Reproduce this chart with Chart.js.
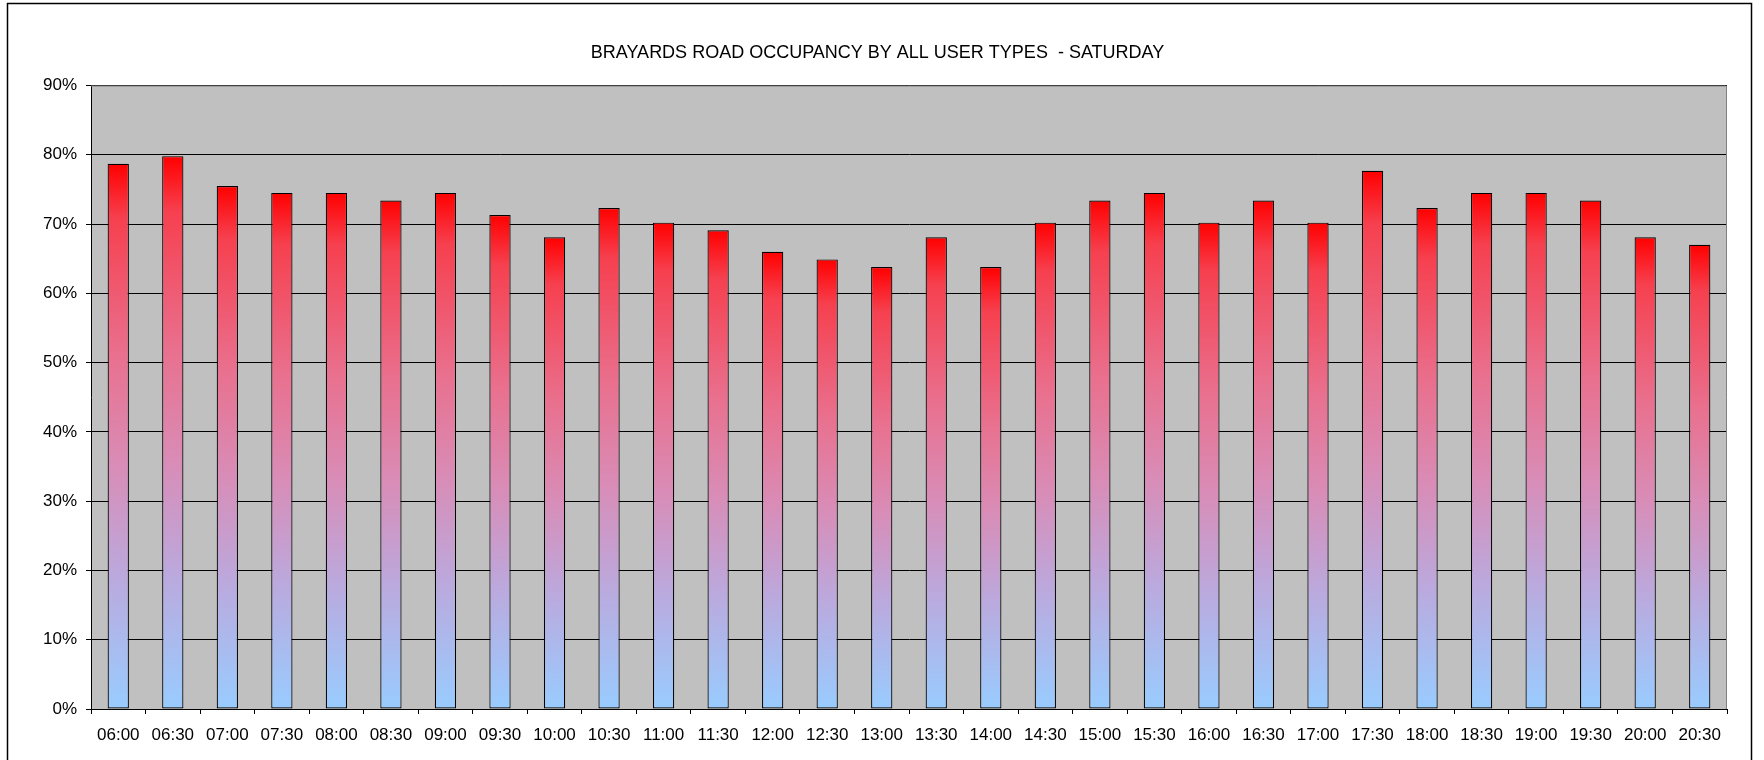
<!DOCTYPE html>
<html>
<head>
<meta charset="utf-8">
<script src="https://cdn.jsdelivr.net/npm/chart.js@4/dist/chart.umd.min.js"></script>
<style>
  html, body { margin: 0; padding: 0; background: #ffffff; }
  #wrap { position: relative; width: 1764px; height: 760px; }
</style>
</head>
<body>
<div id="wrap"><canvas id="chart" width="1764" height="760"></canvas></div>
<script>
// Half-hourly time slots
const timeSlots = ['06:00','06:30','07:00','07:30','08:00','08:30','09:00','09:30','10:00','10:30',
  '11:00','11:30','12:00','12:30','13:00','13:30','14:00','14:30','15:00','15:30',
  '16:00','16:30','17:00','17:30','18:00','18:30','19:00','19:30','20:00','20:30'];

// Occupancy (%) for every slot
const occupancy = [78.7, 79.8, 75.5, 74.5, 74.5, 73.4, 74.5, 71.3, 68.1, 72.3,
  70.2, 69.1, 66.0, 64.9, 63.8, 68.1, 63.8, 70.2, 73.4, 74.5,
  70.2, 73.4, 70.2, 77.7, 72.3, 74.5, 74.5, 73.4, 68.1, 67.0];

// Value axis range and step (%)
const yMin = 0;
const yMax = 90;
const yStep = 10;

const chartTitle = 'BRAYARDS ROAD OCCUPANCY BY ALL USER TYPES  - SATURDAY';

const FONT = '"Liberation Sans", Arial, sans-serif';

// Grey plot background, its frame, and the outer chart frame
const framePlugin = {
  id: 'frames',
  beforeDraw(chart) {
    const { ctx, chartArea: a } = chart;
    ctx.save();
    ctx.fillStyle = '#ffffff';
    ctx.fillRect(0, 0, chart.width, chart.height);
    ctx.strokeStyle = '#000000';
    ctx.lineWidth = 1.5;
    ctx.strokeRect(7.5, 3.5, 1744, 820);
    ctx.fillStyle = '#c0c0c0';
    ctx.fillRect(a.left, a.top, a.right - a.left, a.bottom - a.top);
    ctx.restore();
  },
  afterDraw(chart) {
    const { ctx, chartArea: a } = chart;
    ctx.save();
    ctx.strokeStyle = '#808080';
    ctx.lineWidth = 1;
    ctx.beginPath();
    ctx.moveTo(a.left, a.top + 0.5);
    ctx.lineTo(a.right - 0.5, a.top + 0.5);
    ctx.lineTo(a.right - 0.5, a.bottom);
    ctx.stroke();
    ctx.restore();
  }
};

// Vertical red-to-blue fill, spanning each bar from its top to the baseline
function barFill(context) {
  const chart = context.chart;
  if (!chart.chartArea || !chart.scales.y) return '#ff0000';
  const y = chart.scales.y;
  const top = y.getPixelForValue(context.raw);
  const base = y.getPixelForValue(0);
  const g = chart.ctx.createLinearGradient(0, top, 0, base);
  g.addColorStop(0, '#ff0000');
  g.addColorStop(0.1, '#f6404f');
  g.addColorStop(0.35, '#e9708e');
  g.addColorStop(0.55, '#d98cb6');
  g.addColorStop(0.75, '#bca8dc');
  g.addColorStop(1, '#99ccff');
  return g;
}

new Chart(document.getElementById('chart'), {
  type: 'bar',
  data: {
    labels: timeSlots,
    datasets: [{
      data: occupancy,
      backgroundColor: barFill,
      borderColor: '#000000',
      borderWidth: 1.2,
      borderSkipped: false,
      barPercentage: 0.39,
      categoryPercentage: 1.0
    }]
  },
  plugins: [framePlugin],
  options: {
    responsive: false,
    animation: false,
    devicePixelRatio: 1,
    layout: { padding: { left: 0, right: 9, top: 0, bottom: 0 } },
    plugins: {
      legend: { display: false },
      tooltip: { enabled: false },
      title: {
        display: true,
        text: chartTitle,
        color: '#000000',
        font: { family: FONT, size: 18, weight: 'normal' },
        padding: { top: 42.2, bottom: 21.7 }
      }
    },
    scales: {
      x: {
        offset: true,
        grid: {
          display: true,
          offset: true,
          drawOnChartArea: false,
          drawTicks: true,
          tickLength: 5,
          color: '#000000',
          lineWidth: 1
        },
        border: { display: true, color: '#000000', width: 1 },
        ticks: {
          color: '#000000',
          font: { family: FONT, size: 17 },
          padding: 11,
          maxRotation: 0,
          autoSkip: false
        },
        afterFit(scale) { scale.height = 51; }
      },
      y: {
        min: yMin,
        max: yMax,
        grid: {
          color: '#000000',
          lineWidth: 1,
          tickLength: 5,
          drawTicks: true
        },
        border: { display: true, color: '#000000', width: 1 },
        ticks: {
          stepSize: yStep,
          color: '#000000',
          font: { family: FONT, size: 17 },
          padding: 9,
          callback: (v) => v + '%'
        },
        afterFit(scale) { scale.width = 91; }
      },
      // empty right-hand margin so the title centres over the whole frame
      yRight: {
        type: 'linear',
        position: 'right',
        min: yMin,
        max: yMax,
        grid: { display: false, drawOnChartArea: false, drawTicks: false },
        border: { display: false },
        ticks: { display: false },
        afterFit(scale) { scale.width = 28; }
      }
    }
  }
});
</script>
</body>
</html>
